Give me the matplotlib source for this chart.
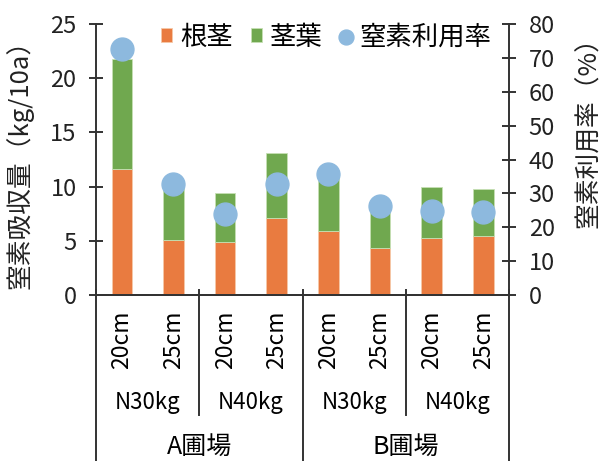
import matplotlib.pyplot as plt
from matplotlib.lines import Line2D

plt.rcParams['font.family'] = ['Noto Sans CJK JP', 'DejaVu Sans']

# 窒素吸収量 (kg/10a) と 窒素利用率 (%)
spacing = ['20cm', '25cm', '20cm', '25cm', '20cm', '25cm', '20cm', '25cm']
fert = ['N30kg', 'N40kg', 'N30kg', 'N40kg']
field = ['A圃場', 'B圃場']
rhizome = [11.6, 5.1, 4.85, 7.1, 5.9, 4.3, 5.3, 5.45]
stem_leaf = [10.2, 4.9, 4.6, 6.0, 4.9, 4.1, 4.65, 4.3]
n_use = [72.6, 32.9, 23.8, 32.7, 35.8, 26.4, 24.8, 24.5]

c_orange = '#E97B40'
c_green = '#70A84F'
c_blue = '#8DB9DE'
c_line = '#333333'

fig = plt.figure(figsize=(6.04, 4.61), dpi=100)
ax = fig.add_axes([0.159, 0.360, 0.684, 0.588])
ax2 = ax.twinx()

x = list(range(len(spacing)))
b1 = ax.bar(x, rhizome, width=0.4, color=c_orange, edgecolor='#F6C9A8', linewidth=0.6, label='根茎')
b2 = ax.bar(x, stem_leaf, width=0.4, bottom=rhizome, color=c_green, edgecolor='#C6E0B4', linewidth=0.6, label='茎葉')
ln, = ax2.plot(x, n_use, 'o', color=c_blue, markersize=16.5, label='窒素利用率')

ax.set_xlim(-0.5, 7.5)
ax.set_ylim(0, 25)
ax2.set_ylim(0, 80)
ax.set_yticks(range(0, 26, 5))
ax2.set_yticks(range(0, 81, 10))

for a in (ax, ax2):
    for s in a.spines.values():
        s.set_color(c_line)
        s.set_linewidth(1.4)
    a.spines['top'].set_visible(False)
    a.tick_params(axis='y', direction='inout', length=10, width=1.4, color=c_line,
                  labelsize=17, labelcolor='#222222', pad=9)
ax.spines['right'].set_visible(False)
ax2.spines['left'].set_visible(False)
ax.set_xticks([])

# 軸タイトル（縦書き）
fig.text(0.033, 0.658, '窒素吸収量（kg/10a）', rotation=90, ha='center', va='center',
         fontsize=18.5, color='#222222')
fig.text(0.975, 0.727, '窒素利用率（%）', rotation=90, ha='center', va='center',
         fontsize=18.5, color='#222222')

# 多段の項目軸
trans = ax.get_xaxis_transform()
for xi, lab in zip(x, spacing):
    ax.text(xi, -0.166, lab, rotation=90, ha='center', va='center', fontsize=16.5,
            transform=trans, clip_on=False)
for i, lab in enumerate(fert):
    ax.text(2 * i + 0.5, -0.395, lab, ha='center', va='center', fontsize=16,
            transform=trans, clip_on=False)
for i, lab in enumerate(field):
    ax.text(4 * i + 1.5, -0.561, lab, ha='center', va='center', fontsize=18,
            transform=trans, clip_on=False)

for xv, y0 in [(-0.5, -0.62), (3.5, -0.62), (7.5, -0.62), (1.5, -0.443), (5.5, -0.443)]:
    ax.add_line(Line2D([xv, xv], [0.02, y0], transform=trans, color=c_line,
                       linewidth=1.4, clip_on=False))

ax2.legend([b1, b2, ln], ['根茎', '茎葉', '窒素利用率'], loc='upper right',
           bbox_to_anchor=(0.983, 1.04), ncol=3, frameon=False, fontsize=19,
           handlelength=0.42, handleheight=0.42, handletextpad=0.3,
           columnspacing=0.68, markerscale=0.65, borderaxespad=0)

fig.savefig('out.png', dpi=100)
